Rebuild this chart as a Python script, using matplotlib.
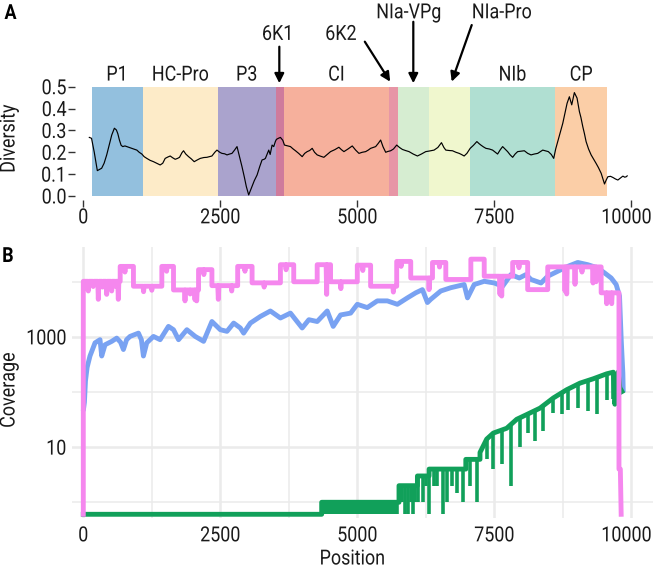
import numpy as np
import matplotlib
matplotlib.use("Agg")
import matplotlib.pyplot as plt
from matplotlib.patches import Rectangle
from matplotlib.patheffects import AbstractPathEffect
from matplotlib.transforms import Affine2D, ScaledTranslation

plt.rcParams['font.family'] = ['Roboto', 'DejaVu Sans']

# ---------------- Panel A data ----------------
domain_names = ["P1", "HC-Pro", "P3", "6K1", "CI", "6K2", "NIa-VPg", "NIa-Pro", "NIb", "CP"]
domain_start = [158, 1086, 2458, 3512, 3665, 5579, 5743, 6310, 7054, 8614]
domain_end = [1086, 2458, 3512, 3665, 5579, 5743, 6310, 7054, 8614, 9560]
domain_colors = ["#93C0DE", "#FDEBC8", "#AAA3CD", "#CF7B9C", "#F6B09C",
                 "#E796A6", "#D6EDD1", "#F0F7CE", "#B0DFD2", "#FBCEA7"]

div_pos = [110, 150, 200, 256, 300, 335, 380, 427, 470, 519, 567, 604, 630, 659, 690, 720, 760, 793,
           840, 885, 930, 977, 1020, 1068, 1110, 1159, 1220, 1281, 1340, 1403, 1450, 1494, 1540,
           1586, 1630, 1677, 1720, 1756, 1800, 1829, 1870, 1921, 1970, 2024, 2080, 2134, 2200,
           2256, 2300, 2347, 2400, 2439, 2490, 2530, 2580, 2622, 2670, 2713, 2760, 2805, 2850,
           2896, 2940, 2975, 3018, 3050, 3079, 3120, 3171, 3220, 3262, 3300, 3323, 3384, 3410,
           3445, 3475, 3506, 3524, 3560, 3597, 3640, 3671, 3720, 3780, 3830, 3872, 3930, 3994,
           4040, 4085, 4130, 4177, 4220, 4268, 4330, 4390, 4450, 4512, 4590, 4664, 4710, 4756,
           4830, 4908, 4970, 5030, 5090, 5152, 5200, 5243, 5290, 5335, 5380, 5426, 5470, 5518,
           5560, 5609, 5660, 5719, 5770, 5823, 5880, 5944, 6020, 6097, 6170, 6249, 6320, 6401,
           6470, 6536, 6580, 6615, 6680, 6737, 6800, 6859, 6900, 6950, 7000, 7060, 7120, 7182,
           7220, 7255, 7300, 7347, 7410, 7469, 7520, 7560, 7610, 7652, 7700, 7743, 7790, 7835,
           7880, 7926, 7990, 8048, 8110, 8170, 8230, 8292, 8340, 8384, 8440, 8486, 8540, 8584,
           8620, 8657, 8700, 8749, 8790, 8828, 8870, 8913, 8961, 9010, 9053, 9080, 9115, 9145,
           9175, 9220, 9267, 9310, 9358, 9400, 9450, 9480, 9511, 9540, 9572, 9620, 9663, 9710,
           9755, 9800, 9846, 9880, 9907, 9925]
div_val = [0.268, 0.264, 0.200, 0.116, 0.122, 0.127, 0.150, 0.188, 0.230, 0.279, 0.310, 0.302, 0.285,
           0.256, 0.232, 0.226, 0.229, 0.226, 0.222, 0.218, 0.214, 0.210, 0.200, 0.192, 0.180, 0.172,
           0.163, 0.157, 0.150, 0.142, 0.150, 0.172, 0.178, 0.183, 0.175, 0.168, 0.172, 0.177, 0.198,
           0.207, 0.192, 0.180, 0.170, 0.157, 0.165, 0.172, 0.176, 0.177, 0.180, 0.183, 0.200, 0.210,
           0.200, 0.195, 0.193, 0.188, 0.192, 0.195, 0.210, 0.226, 0.180, 0.134, 0.085, 0.043, 0.005,
           0.025, 0.043, 0.070, 0.096, 0.135, 0.165, 0.168, 0.172, 0.210, 0.190, 0.233, 0.226, 0.250,
           0.259, 0.264, 0.268, 0.255, 0.233, 0.230, 0.226, 0.215, 0.207, 0.195, 0.180, 0.195, 0.203,
           0.208, 0.218, 0.200, 0.188, 0.182, 0.177, 0.190, 0.203, 0.212, 0.223, 0.212, 0.203, 0.215,
           0.229, 0.210, 0.195, 0.200, 0.203, 0.210, 0.218, 0.222, 0.226, 0.240, 0.256, 0.225, 0.200,
           0.204, 0.207, 0.215, 0.233, 0.222, 0.213, 0.208, 0.203, 0.192, 0.183, 0.192, 0.203, 0.206,
           0.210, 0.222, 0.244, 0.222, 0.210, 0.208, 0.207, 0.200, 0.195, 0.190, 0.183, 0.195, 0.218,
           0.232, 0.249, 0.240, 0.233, 0.225, 0.218, 0.215, 0.210, 0.200, 0.192, 0.212, 0.226, 0.214,
           0.203, 0.188, 0.177, 0.192, 0.203, 0.205, 0.207, 0.195, 0.188, 0.192, 0.195, 0.203, 0.210,
           0.206, 0.203, 0.190, 0.172, 0.215, 0.249, 0.290, 0.332, 0.380, 0.424, 0.454, 0.417, 0.473,
           0.448, 0.386, 0.360, 0.317, 0.285, 0.249, 0.215, 0.188, 0.170, 0.149, 0.130, 0.104, 0.080,
           0.055, 0.072, 0.088, 0.090, 0.085, 0.078, 0.073, 0.082, 0.091, 0.086, 0.088, 0.092]

top_labels = ["P1", "HC-Pro", "P3", "CI", "NIb", "CP"]
arrow_labels = ["6K1", "6K2", "NIa-VPg", "NIa-Pro"]
arrow_text_x = [3553, 4703, 5944, 7640]
arrow_text_y = [0.714, 0.714, 0.813, 0.813]
arrow_tail_x = [3577, 5137, 6022, 7088]
arrow_tail_y = [0.683, 0.706, 0.797, 0.782]
arrow_head_x = [3577, 5600, 6022, 6723]
arrow_head_y = [0.516, 0.523, 0.516, 0.523]

x_ticks = [0, 2500, 5000, 7500, 10000]
x_tick_labels = ["0", "2500", "5000", "7500", "10000"]

# ---------------- Panel B data ----------------
pink_start = [0, 673, 915, 1433, 1646, 2103, 2347, 2817, 3080, 3597, 3840, 4268, 4512, 5000, 5243,
              5719, 5975, 6372, 6615, 7072, 7316, 7835, 8109, 8475, 9450, 9775]
pink_end = [673, 915, 1433, 1646, 2103, 2347, 2817, 3080, 3597, 3840, 4268, 4512, 5000, 5243, 5719,
            5975, 6372, 6615, 7072, 7316, 7835, 8109, 8475, 9450, 9775, 9800]
pink_cov = [10200, 19000, 8300, 19000, 7100, 16600, 8500, 19000, 9550, 20400, 10000, 20400, 10000,
            20000, 8300, 23400, 11700, 22400, 11000, 25700, 12600, 22400, 7200, 18600, 6300, 4]
pink_spike_pos = [91, 180, 274, 350, 427, 518, 580, 639, 760, 1100, 1250, 1520, 1856, 1950, 2038,
                  2069, 2200, 2464, 2708, 2950, 3300, 3700, 4271, 4441, 4700, 5100, 5658, 5800,
                  6310, 6500, 7604, 7635, 7950, 8790, 8821, 8973, 9100, 9302, 9358, 9551, 9642]
pink_spike_cov = [6800, 8200, 4800, 8000, 5900, 6800, 8300, 4800, 15000, 6600, 7000, 15500, 4500,
                  6000, 4700, 4500, 13500, 4800, 6800, 15500, 8000, 16500, 5500, 5900, 7500, 16000,
                  6500, 19000, 7200, 18500, 5900, 5500, 18000, 6800, 6000, 9000, 15000, 9500,
                  10000, 4000, 4000]

blue_pos = [5, 20, 40, 70, 122, 214, 305, 336, 397, 519, 610, 680, 732, 790, 853, 1006, 1060, 1097,
            1158, 1280, 1402, 1554, 1646, 1738, 1890, 2042, 2195, 2347, 2500, 2622, 2744, 2866, 2926,
            3049, 3232, 3414, 3597, 3780, 3994, 4116, 4268, 4451, 4560, 4695, 4878, 5000, 5182, 5365,
            5548, 5731, 5914, 6066, 6188, 6280, 6340, 6523, 6706, 6950, 7011, 7133, 7316, 7499, 7652,
            7804, 7956, 8078, 8170, 8353, 8475, 8658, 8840, 9023, 9206, 9389, 9511, 9633, 9724, 9785,
            9816, 9846, 9852]
blue_cov = [50, 65, 160, 280, 450, 780, 890, 450, 720, 830, 950, 800, 590, 890, 1020, 1170, 890, 450,
            780, 1020, 890, 1550, 1350, 890, 1350, 1020, 830, 1900, 1350, 1260, 1780, 1450, 1170,
            1780, 2350, 2950, 2200, 2700, 1450, 2050, 1900, 2950, 1550, 2500, 2700, 3900, 3400, 4500,
            4500, 3900, 5100, 6300, 7200, 4200, 4800, 6800, 7800, 8900, 5100, 8900, 10200, 9500, 8300,
            13500, 11700, 13500, 11000, 9500, 12600, 15500, 19000, 22400, 20400, 17800, 14500, 11700,
            8900, 5500, 890, 220, 110]

green_pos = [0, 4350, 4350, 5761, 5761, 6097, 6097, 6310, 6310, 6980, 6980, 7239, 7239, 7361, 7482,
             7726, 7909, 8091, 8334, 8577, 8821, 9064, 9307, 9551, 9672, 9700, 9760, 9790, 9830]
green_cov = [0, 0, 1, 1, 2, 2, 3, 3, 4, 4, 6, 6, 8, 14, 18, 22, 32, 39, 51, 78, 110, 145, 174, 214,
             229, 60, 230, 120, 102]
green_spike_pos = [4385, 4412, 4440, 4475, 4498, 4530, 4566, 4590, 4625, 4652, 4690, 4717, 4748,
                   4780, 4806, 4842, 4870, 4905, 4933, 4960, 4998, 5025, 5049, 5090, 5117, 5150,
                   5178, 5212, 5240, 5270, 5305, 5333, 5360, 5398, 5425, 5455, 5490, 5518, 5550,
                   5580, 5612, 5640, 5672, 5705, 5733, 5810, 5865, 5920, 5980, 6022, 6060, 6113,
                   6200, 6250, 6310, 6400, 6462, 6570, 6631, 6723, 6815, 6935, 7060, 7178, 7361,
                   7482, 7635, 7799, 7970, 8122, 8243, 8395, 8577, 8730, 8852, 9035, 9218, 9370,
                   9550, 9672]
green_spike_cov = [0, 0, 0, 0, 0, 0, 0, 0, 0, 0, 0, 0, 0, 0, 0, 0, 0, 0, 0, 0, 0, 0, 0, 0, 0, 0,
                   0, 0, 0, 0, 0, 0, 0, 0, 0, 0, 0, 0, 0, 0, 0, 0, 0, 0, 0, 1, 0, 0, 1, 0, 1, 1,
                   1, 2, 0, 2, 2, 0, 1, 2, 1.5, 1, 2, 1, 6, 4, 5, 2, 10, 18, 13, 20, 42, 40, 47,
                   52, 45, 40, 73, 76]

# ---------------- helpers ----------------
YLO_LOG, YHI_LOG = -0.218, 4.636
FLOOR = 10 ** YLO_LOG


def floor0(v):
    v = np.asarray(v, dtype=float)
    return np.where(v <= 0, FLOOR, v)


def step_series(starts, ends, levels, sp_pos, sp_val, w=10):
    xs, ys = [], []
    sp = sorted(zip(sp_pos, sp_val))
    for s, e, l in zip(starts, ends, levels):
        xs.append(s); ys.append(l)
        for p, v in sp:
            if s + w < p < e - w:
                xs += [p - w, p, p + w]
                ys += [l, v, l]
        xs.append(e); ys.append(l)
    return xs, ys


class Condense(AbstractPathEffect):
    """Narrow the glyphs along the text direction (imitates a condensed face)."""
    def __init__(self, sx=0.86, anchor="center"):
        super().__init__()
        self.sx, self.anchor = sx, anchor

    def draw_path(self, renderer, gc, tpath, affine, rgbFace=None):
        v = tpath.vertices
        if len(v) == 0:
            return
        x0, x1 = v[:, 0].min(), v[:, 0].max()
        cx = {"center": 0.5 * (x0 + x1), "right": x1, "left": x0}[self.anchor]
        t = Affine2D().translate(-cx, 0).scale(self.sx, 1).translate(cx, 0) + affine
        renderer.draw_path(gc, tpath, t, rgbFace)


def cond(t, anchor="center", sx=0.86):
    t.set_path_effects([Condense(sx, anchor)])
    return t


# ---------------- figure ----------------
W, H = 653, 570
fig = plt.figure(figsize=(W / 100, H / 100), dpi=100)

PX0 = 83.3
SX = 0.0548
def xdat(px):
    return (px - PX0) / SX

FS = 15
TXT = "#1a1a1a"


def style_x_labels(ax):
    """Condense the x tick labels; keep the last one inside the figure edge."""
    labels = ax.get_xticklabels()
    for t in labels[:-1]:
        cond(t, "center")
    last = labels[-1]
    tick_px = PX0 + SX * x_ticks[-1]
    shift = (W - 1.5 - tick_px) / 100.0
    last.set_horizontalalignment("right")
    last.set_transform(last.get_transform() + ScaledTranslation(shift, 0, fig.dpi_scale_trans))
    cond(last, "right")


# ---- Panel A ----
a_left, a_bottom, a_top = 75, 200, 0
axA = fig.add_axes([a_left / W, 1 - a_bottom / H, 1 - a_left / W, (a_bottom - a_top) / H])
YS = 218.6
axA.set_xlim(xdat(a_left), xdat(W))
axA.set_ylim(-(a_bottom - 196) / YS, (196 - a_top) / YS)
for s, e, c in zip(domain_start, domain_end, domain_colors):
    axA.add_patch(Rectangle((s, 0), e - s, 0.5, facecolor=c, edgecolor="none", zorder=1))
axA.plot(div_pos, div_val, color="black", lw=0.85, zorder=3)
for name, s, e in zip(domain_names, domain_start, domain_end):
    if name in top_labels:
        cond(axA.text((s + e) / 2, 0.528, name, ha="center", va="baseline", fontsize=FS,
                      color=TXT, clip_on=False))
for name, tx, ty, ax0, ay0, ax1, ay1 in zip(arrow_labels, arrow_text_x, arrow_text_y,
                                             arrow_tail_x, arrow_tail_y, arrow_head_x, arrow_head_y):
    cond(axA.text(tx, ty, name, ha="center", va="baseline", fontsize=FS, color=TXT, clip_on=False))
    axA.annotate("", xy=(ax1, ay1), xytext=(ax0, ay0),
                 arrowprops=dict(arrowstyle="-|>", color="black", lw=1.6, mutation_scale=14,
                                 shrinkA=0, shrinkB=0), annotation_clip=False)
for sp in axA.spines.values():
    sp.set_visible(False)
axA.set_yticks([0.0, 0.1, 0.2, 0.3, 0.4, 0.5])
axA.set_yticklabels(["0.0", "0.1", "0.2", "0.3", "0.4", "0.5"])
axA.set_xticks(x_ticks)
axA.set_xticklabels(x_tick_labels)
axA.tick_params(axis="both", length=5, width=1, color="#333333", labelsize=FS, labelcolor=TXT,
                pad=1)
style_x_labels(axA)
for t in axA.get_yticklabels():
    cond(t, "right")
axA.set_ylabel("Diversity", fontsize=FS, color=TXT)
axA.yaxis.set_label_coords((9 - a_left) / (W - a_left), (200 - 138.5) / 200)
axA.yaxis.label.set_va("center")
cond(axA.yaxis.label, "center")
axA.patch.set_visible(False)

# ---- Panel B ----
b_left, b_bottom, b_top = 72, 518, 246.7
PXB0 = 514.3
axB = fig.add_axes([b_left / W, 1 - b_bottom / H, 1 - b_left / W, (b_bottom - b_top) / H])
axB.set_yscale("log")
axB.set_xlim(xdat(b_left), xdat(W))
axB.set_ylim(10 ** (YLO_LOG - (b_bottom - PXB0) / 55.0), 10 ** YHI_LOG)
for sp in axB.spines.values():
    sp.set_visible(False)
axB.set_xticks(x_ticks)
axB.set_xticklabels(x_tick_labels)
axB.set_xticks([1250, 3750, 6250, 8750], minor=True)
axB.set_yticks([10, 1000])
axB.set_yticklabels(["10", "1000"])
axB.set_yticks([1, 100, 10000], minor=True)
axB.yaxis.set_minor_formatter(matplotlib.ticker.NullFormatter())
axB.grid(True, which="major", color="#EBEBEB", lw=1.8, zorder=0)
axB.grid(True, which="minor", color="#EBEBEB", lw=1.1, zorder=0)
axB.set_axisbelow(True)
axB.tick_params(axis="both", which="both", length=0, labelsize=FS, labelcolor=TXT)
axB.tick_params(axis="x", pad=6)
axB.tick_params(axis="y", pad=4)
style_x_labels(axB)
for t in axB.get_yticklabels():
    cond(t, "right")

LW = 3.5
axB.plot(blue_pos, blue_cov, color="#79A2F2", lw=LW, solid_joinstyle="round", zorder=3)
axB.plot(green_pos, floor0(green_cov), color="#11A05A", lw=LW, zorder=4)
g_top = np.interp(green_spike_pos, green_pos, green_cov)
axB.vlines(green_spike_pos, floor0(green_spike_cov), floor0(g_top), color="#11A05A", lw=2.6,
           zorder=4)
px_, py_ = step_series(pink_start, pink_end, pink_cov, pink_spike_pos, pink_spike_cov)
px_ = [0] + px_ + [9815]
py_ = [0] + py_ + [0]
axB.plot(px_, floor0(py_), color="#F587EE", lw=LW, zorder=5)

axB.set_xlabel("Position", fontsize=FS, color=TXT)
axB.xaxis.set_label_coords((352.5 - b_left) / (W - b_left), -(559 - b_bottom) / (b_bottom - b_top))
axB.xaxis.label.set_va("center")
cond(axB.xaxis.label, "center")
axB.set_ylabel("Coverage", fontsize=FS, color=TXT)
axB.yaxis.set_label_coords((9 - b_left) / (W - b_left), (b_bottom - 390) / (b_bottom - b_top))
axB.yaxis.label.set_va("center")
cond(axB.yaxis.label, "center")

cond(fig.text(10.5 / W, 1 - 13.5 / H, "A", fontsize=15, fontweight="bold", ha="center",
              va="center", color="black"))
cond(fig.text(8 / W, 1 - 256.5 / H, "B", fontsize=15, fontweight="bold", ha="center",
              va="center", color="black"))

fig.savefig("out.png", dpi=100)
